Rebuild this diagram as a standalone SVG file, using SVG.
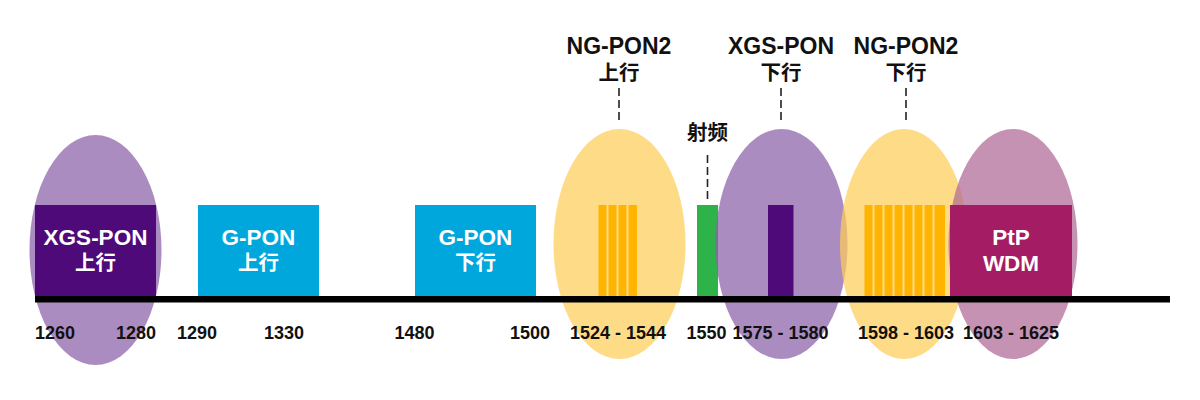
<svg xmlns="http://www.w3.org/2000/svg" width="1200" height="400" viewBox="0 0 1200 400">
<style>
.ell{opacity:0.72}
.lbl{font-family:"Liberation Sans","Noto Sans CJK SC",sans-serif;font-weight:bold;text-anchor:middle}
.in{fill:#ffffff;font-size:22.5px}
.top{fill:#111111;font-size:23px}
.cjk{font-size:20.5px}
.tick{fill:#111111;font-size:18px}
.dash{stroke:#222222;stroke-width:1.6;stroke-dasharray:8 4;fill:none}
.bar{fill:#ffb400}
</style>
<rect width="1200" height="400" fill="#ffffff"/>
<g id="rf">
<rect x="697" y="205" width="21" height="91" fill="#2db34a"/>
</g>
<g id="ellipses">
<ellipse id="e-xgs-up" class="ell" cx="95.5" cy="250" rx="66" ry="115" fill="#8b60a8"/>
<ellipse id="e-ng-up" class="ell" cx="619.5" cy="244" rx="66" ry="115" fill="#fdcd58"/>
<ellipse id="e-xgs-down" class="ell" cx="781.5" cy="244" rx="66" ry="115" fill="#8b60a8"/>
<ellipse id="e-ng-down" class="ell" cx="904" cy="244" rx="64" ry="115" fill="#fdcd58"/>
<ellipse id="e-ptp" class="ell" cx="1013" cy="244" rx="64.5" ry="115" fill="#b06895"/>
</g>
<g id="xgs-up">
<rect x="35" y="205" width="121" height="91" fill="#4e0a78"/>
<text class="lbl in" x="95.5" y="245">XGS-PON</text>
<text class="lbl in cjk" x="95.5" y="270">上行</text>
</g>
<g id="gpon-up">
<rect x="198" y="205" width="121" height="91" fill="#00a7dd"/>
<text class="lbl in" x="258.5" y="245">G-PON</text>
<text class="lbl in cjk" x="258.5" y="270">上行</text>
</g>
<g id="gpon-down">
<rect x="415" y="205" width="121" height="91" fill="#00a7dd"/>
<text class="lbl in" x="475.5" y="245">G-PON</text>
<text class="lbl in cjk" x="475.5" y="270">下行</text>
</g>
<g id="ngpon2-up">
<rect class="bar" x="598.5" y="205" width="8" height="91"/>
<rect class="bar" x="608.5" y="205" width="8" height="91"/>
<rect class="bar" x="618.5" y="205" width="8" height="91"/>
<rect class="bar" x="628.5" y="205" width="8.5" height="91"/>
<text class="lbl top" x="619" y="54">NG-PON2</text>
<text class="lbl top cjk" x="619" y="80">上行</text>
</g>
<g id="rf-label">
<text class="lbl top cjk" x="707.5" y="140">射频</text>
</g>
<g id="xgs-down">
<rect x="768" y="205" width="25.5" height="91" fill="#4e0a78"/>
<text class="lbl top" x="781" y="54">XGS-PON</text>
<text class="lbl top cjk" x="781" y="80">下行</text>
</g>
<g id="ngpon2-down">
<rect class="bar" x="864.5" y="205" width="8" height="91"/>
<rect class="bar" x="874.5" y="205" width="8" height="91"/>
<rect class="bar" x="884.5" y="205" width="8" height="91"/>
<rect class="bar" x="894.5" y="205" width="8" height="91"/>
<rect class="bar" x="904.5" y="205" width="8" height="91"/>
<rect class="bar" x="914.5" y="205" width="8" height="91"/>
<rect class="bar" x="924.5" y="205" width="8" height="91"/>
<rect class="bar" x="934.5" y="205" width="10.5" height="91"/>
<text class="lbl top" x="906" y="54">NG-PON2</text>
<text class="lbl top cjk" x="906" y="80">下行</text>
</g>
<g id="ptp-wdm">
<rect x="950" y="205" width="122" height="91" fill="#a31c64"/>
<text class="lbl in" x="1011" y="245">PtP</text>
<text class="lbl in" x="1011" y="271">WDM</text>
</g>
<g id="connectors">
<line class="dash" x1="619" y1="88" x2="619" y2="124"/>
<line class="dash" x1="781" y1="88" x2="781" y2="124"/>
<line class="dash" x1="906" y1="88" x2="906" y2="124"/>
<line class="dash" x1="707.5" y1="155" x2="707.5" y2="202"/>
</g>
<g id="axis">
<rect x="35" y="296" width="1135" height="6.5" fill="#000000"/>
<text class="lbl tick" x="55" y="339">1260</text>
<text class="lbl tick" x="136" y="339">1280</text>
<text class="lbl tick" x="197" y="339">1290</text>
<text class="lbl tick" x="284" y="339">1330</text>
<text class="lbl tick" x="414.5" y="339">1480</text>
<text class="lbl tick" x="530" y="339">1500</text>
<text class="lbl tick" x="618" y="339">1524 - 1544</text>
<text class="lbl tick" x="706.5" y="339">1550</text>
<text class="lbl tick" x="780.5" y="339">1575 - 1580</text>
<text class="lbl tick" x="906" y="339">1598 - 1603</text>
<text class="lbl tick" x="1011" y="339">1603 - 1625</text>
</g>
</svg>
